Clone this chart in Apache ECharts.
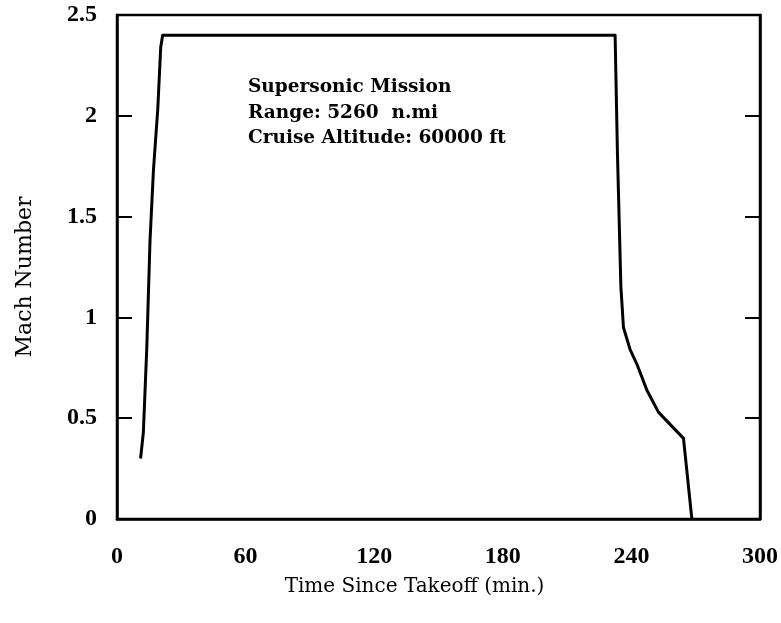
<!DOCTYPE html>
<html>
<head>
<meta charset="utf-8">
<script src="https://cdn.jsdelivr.net/npm/echarts@6/dist/echarts.min.js"></script>
<style>html,body{margin:0;padding:0;background:#fff}#c{width:781px;height:623px}</style>
</head>
<body>
<div id="c"></div>
<script>
const timeMin = [11, 12.3, 13.9, 15.4, 17, 19, 20.4, 21.3, 232.4, 233.5, 235.1, 236.3, 239.4, 242.5, 247.2, 252.6, 264.3, 268.2];
const mach = [0.3, 0.43, 0.85, 1.38, 1.73, 2.03, 2.34, 2.4, 2.4, 1.81, 1.15, 0.95, 0.84, 0.77, 0.64, 0.53, 0.40, 0];
const xTicks = [0, 60, 120, 180, 240, 300];
const yTicks = [0, 0.5, 1, 1.5, 2, 2.5];
const noteLines = ['Supersonic Mission', 'Range: 5260  n.mi', 'Cruise Altitude: 60000 ft'];

const FONT = 'DejaVu Serif';
const TICKFONT = 'Liberation Serif';
const chart = echarts.init(document.getElementById('c'), null, {renderer: 'canvas'});
chart.setOption({
  animation: false,
  backgroundColor: '#fff',
  grid: {left: 117, right: 21, top: 15, bottom: 104, show: true, borderColor: '#000', borderWidth: 2.5, backgroundColor: 'transparent'},
  xAxis: {
    type: 'value', min: xTicks[0], max: xTicks[xTicks.length - 1], interval: xTicks[1] - xTicks[0],
    name: 'Time Since Takeoff (min.)', nameLocation: 'middle', nameGap: 58,
    nameTextStyle: {fontFamily: FONT, fontSize: 20, color: '#000', padding: [0, 48, 0, 0]},
    axisLine: {show: true, lineStyle: {color: '#000', width: 2.5}},
    axisTick: {show: false},
    splitLine: {show: false},
    axisLabel: {fontFamily: TICKFONT, fontSize: 24, fontWeight: 'bold', color: '#000', margin: 26, letterSpacing: -1.5}
  },
  yAxis: [{
    type: 'value', min: yTicks[0], max: yTicks[yTicks.length - 1], interval: yTicks[1] - yTicks[0], position: 'left',
    name: 'Mach Number', nameLocation: 'middle', nameGap: 81,
    nameTextStyle: {fontFamily: FONT, fontSize: 22, color: '#000', padding: [0, 20, 0, 0]},
    axisLine: {show: true, lineStyle: {color: '#000', width: 2.5}},
    axisTick: {show: true, inside: true, length: 15, lineStyle: {color: '#000', width: 2}},
    splitLine: {show: false},
    axisLabel: {fontFamily: TICKFONT, fontSize: 24, fontWeight: 'bold', color: '#000', margin: 20, letterSpacing: -1.5}
  }, {
    type: 'value', min: yTicks[0], max: yTicks[yTicks.length - 1], interval: yTicks[1] - yTicks[0], position: 'right',
    axisLine: {show: true, lineStyle: {color: '#000', width: 2.5}},
    axisTick: {show: true, inside: true, length: 15, lineStyle: {color: '#000', width: 2}},
    axisLabel: {show: false},
    splitLine: {show: false}
  }],
  graphic: noteLines.map((t, i) => ({
    type: 'text', left: 248, top: 78 + i * 25.5,
    style: {text: t, font: 'bold 18.5px "' + FONT + '"', fill: '#000'}
  })),
  series: [{
    type: 'line', yAxisIndex: 0,
    data: timeMin.map((t, i) => [t, mach[i]]),
    showSymbol: false, symbol: 'none',
    lineStyle: {color: '#000', width: 3, join: 'round'}
  }]
});
</script>
</body>
</html>
